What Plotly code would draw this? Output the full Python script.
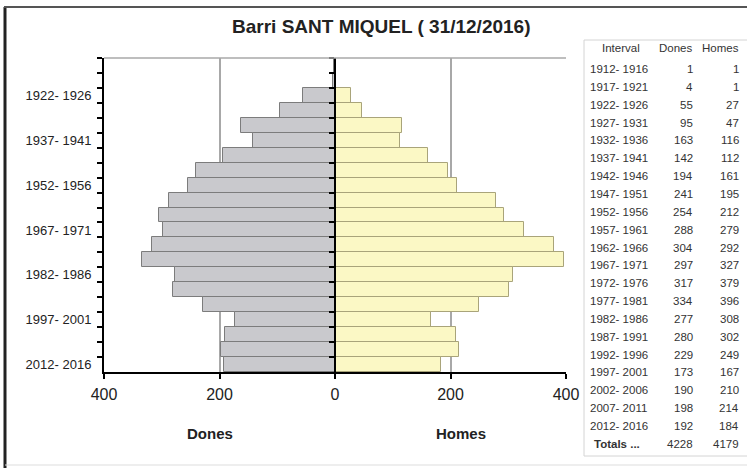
import plotly.graph_objects as go

# ---------------- data ----------------
intervals = ["1912- 1916", "1917- 1921", "1922- 1926", "1927- 1931", "1932- 1936",
             "1937- 1941", "1942- 1946", "1947- 1951", "1952- 1956", "1957- 1961",
             "1962- 1966", "1967- 1971", "1972- 1976", "1977- 1981", "1982- 1986",
             "1987- 1991", "1992- 1996", "1997- 2001", "2002- 2006", "2007- 2011",
             "2012- 2016"]
dones = [1, 4, 55, 95, 163, 142, 194, 241, 254, 288, 304, 297, 317, 334, 277,
         280, 229, 173, 190, 198, 192]
homes = [1, 1, 27, 47, 116, 112, 161, 195, 212, 279, 292, 327, 379, 396, 308,
         302, 249, 167, 210, 214, 184]
x_ticks = [-400, -200, 0, 200, 400]
x_ticktext = ["400", "200", "0", "200", "400"]
title = "Barri SANT MIQUEL ( 31/12/2016)"
table_header = ["Interval", "Dones", "Homes"]
totals_label = "Totals ..."
totals = [sum(dones), sum(homes)]

# ---------------- layout helpers ----------------
W, H = 747, 468
L, R, T, B = 104, 566, 58, 372
def px(x):
    return (x - L) / (R - L)
def py(y):
    return (B - y) / (B - T)

FONT = "Liberation Sans, Arial, sans-serif"
n = len(intervals)
ypos = list(range(n))
boundaries = [i - 0.5 for i in range(n)]
label_idx = [i for i in range(n) if i % 3 == 2]

fig = go.Figure()
fig.add_trace(go.Bar(
    y=ypos, x=[-v for v in dones], orientation="h", width=1,
    marker=dict(color="#c9c9cd", line=dict(color="#7c7c7c", width=1)),
    name="Dones", hoverinfo="skip"))
fig.add_trace(go.Bar(
    y=ypos, x=homes, orientation="h", width=1,
    marker=dict(color="#fbf8c5", line=dict(color="#a9a47a", width=1)),
    name="Homes", hoverinfo="skip"))
# invisible helper trace for centre axis
fig.add_trace(go.Scatter(x=[0], y=[0], yaxis="y2", mode="markers",
                         marker=dict(opacity=0), hoverinfo="skip", showlegend=False))

annotations = []
annotations.append(dict(text="<b>" + title + "</b>", x=px(381), y=py(27), xref="paper", yref="paper",
                        showarrow=False, font=dict(family=FONT, size=19, color="#222222"),
                        xanchor="center", yanchor="middle"))
annotations.append(dict(text="<b>Dones</b>", x=px(210), y=py(433), xref="paper", yref="paper",
                        showarrow=False, font=dict(family=FONT, size=15, color="#222222"),
                        xanchor="center", yanchor="middle"))
annotations.append(dict(text="<b>Homes</b>", x=px(461), y=py(433), xref="paper", yref="paper",
                        showarrow=False, font=dict(family=FONT, size=15, color="#222222"),
                        xanchor="center", yanchor="middle"))

# table
tfont = dict(family=FONT, size=11.5, color="#333333")
row0, dy = 69, 17.85
annotations.append(dict(text=table_header[0], x=px(621), y=py(48), xref="paper", yref="paper",
                        showarrow=False, font=tfont, xanchor="center", yanchor="middle"))
annotations.append(dict(text=table_header[1], x=px(675), y=py(48), xref="paper", yref="paper",
                        showarrow=False, font=tfont, xanchor="center", yanchor="middle"))
annotations.append(dict(text=table_header[2], x=px(720), y=py(48), xref="paper", yref="paper",
                        showarrow=False, font=tfont, xanchor="center", yanchor="middle"))
for i, (lab, d, h) in enumerate(zip(intervals, dones, homes)):
    yy = py(row0 + i * dy)
    annotations.append(dict(text=lab, x=px(588), y=yy, xref="paper", yref="paper", showarrow=False,
                            font=tfont, xanchor="left", yanchor="middle"))
    annotations.append(dict(text=str(d), x=px(695), y=yy, xref="paper", yref="paper", showarrow=False,
                            font=tfont, xanchor="right", yanchor="middle"))
    annotations.append(dict(text=str(h), x=px(741), y=yy, xref="paper", yref="paper", showarrow=False,
                            font=tfont, xanchor="right", yanchor="middle"))
yy = py(row0 + n * dy)
annotations.append(dict(text="<b>" + totals_label + "</b>", x=px(592), y=yy, xref="paper", yref="paper",
                        showarrow=False, font=tfont, xanchor="left", yanchor="middle"))
annotations.append(dict(text=str(totals[0]), x=px(695), y=yy, xref="paper", yref="paper", showarrow=False,
                        font=tfont, xanchor="right", yanchor="middle"))
annotations.append(dict(text=str(totals[1]), x=px(741), y=yy, xref="paper", yref="paper", showarrow=False,
                        font=tfont, xanchor="right", yanchor="middle"))

shapes = [
    # top border of plot area
    dict(type="line", xref="paper", yref="paper", x0=0, x1=1, y0=1, y1=1,
         line=dict(color="#a8a8a8", width=1.5)),
    # outer frame
    dict(type="line", xref="paper", yref="paper", x0=px(5), x1=px(5), y0=py(7), y1=py(468),
         line=dict(color="#222222", width=3)),
    dict(type="line", xref="paper", yref="paper", x0=px(4), x1=px(747), y0=py(7), y1=py(7),
         line=dict(color="#555555", width=2)),
    dict(type="line", xref="paper", yref="paper", x0=px(5), x1=px(747), y0=py(465), y1=py(465),
         line=dict(color="#dddddd", width=1)),
    # table box
    dict(type="rect", xref="paper", yref="paper", x0=px(584), x1=px(749), y0=py(40), y1=py(456),
         line=dict(color="#d4d4d4", width=1), fillcolor="rgba(0,0,0,0)", layer="below"),
]

fig.update_layout(
    width=W, height=H,
    margin=dict(l=L, r=W - R, t=T, b=H - B, pad=0),
    paper_bgcolor="white", plot_bgcolor="white",
    showlegend=False, barmode="overlay", bargap=0,
    annotations=annotations, shapes=shapes,
    xaxis=dict(range=[-400, 400], tickmode="array", tickvals=x_ticks, ticktext=x_ticktext,
               ticks="outside", ticklen=5, tickwidth=2, tickcolor="black",
               showline=True, linecolor="black", linewidth=2,
               showgrid=True, gridcolor="#a8a8a8", gridwidth=1.5, zeroline=False,
               tickfont=dict(family=FONT, size=16, color="#222222"), ticklabelstandoff=2),
    yaxis=dict(range=[n - 0.5, -0.5], tickmode="array", tickvals=label_idx,
               ticktext=[intervals[i] for i in label_idx], ticks="",
               showline=True, linecolor="black", linewidth=2, showgrid=False, zeroline=False,
               tickfont=dict(family=FONT, size=13, color="#222222"), ticklabelstandoff=8,
               minor=dict(tickmode="array", tickvals=boundaries, ticks="outside", ticklen=5,
                          tickwidth=2, tickcolor="black", showgrid=False)),
    yaxis2=dict(range=[n - 0.5, -0.5], overlaying="y", anchor="free", position=0.5, side="left",
                tickmode="array", tickvals=boundaries, ticks="outside", ticklen=5, tickwidth=2,
                tickcolor="black", showticklabels=False, showline=True, linecolor="black",
                linewidth=2, showgrid=False, zeroline=False),
)

fig.write_html("out.html", config={"displayModeBar": False},
               post_script="document.body.style.margin='0px';")
